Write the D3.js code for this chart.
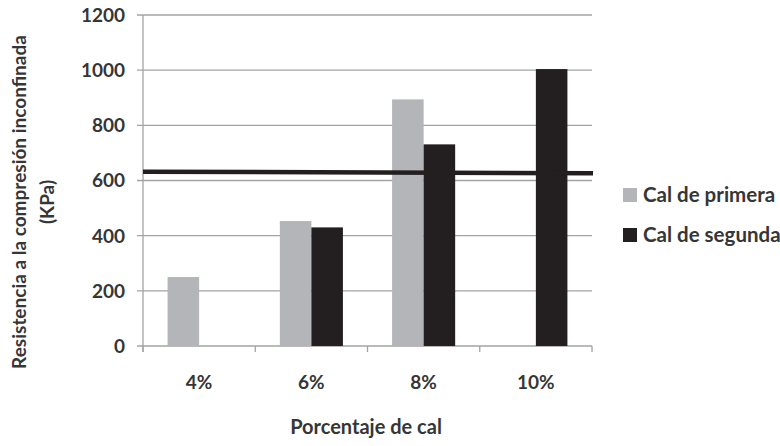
<!DOCTYPE html>
<html>
<head>
<meta charset="utf-8">
<script src="https://cdn.jsdelivr.net/npm/d3@7"></script>
<style>
  html, body { margin: 0; padding: 0; background: #fff; }
  svg { display: block; }
  text { font-family: Lato, "Open Sans", sans-serif; font-weight: bold; fill: #363636; }
</style>
</head>
<body>
<svg id="chart" width="780" height="446"></svg>
<script>
const categories = ["4%", "6%", "8%", "10%"];
const series = ["Cal de primera", "Cal de segunda"];
const calPrimera = [250, 453, 894, null];
const calSegunda = [null, 430, 731, 1004];
const refLine = [632, 626];
const yTicks = [0, 200, 400, 600, 800, 1000, 1200];
const colors = ["#b4b5b9", "#231f20"];

(function () {
const svg = d3.select("#chart");
const pL = 143, pR = 592, pT = 15, pB = 346;

const x0 = d3.scaleBand().domain(categories).range([pL, pR]).padding(0);
const bw = x0.bandwidth();
const x1 = d3.scaleBand().domain(series).range([bw * 0.219, bw * 0.781]).padding(0);
const y = d3.scaleLinear().domain([0, 1200]).range([pB, pT]);

// gridlines
svg.append("g").selectAll("line").data(yTicks).join("line")
  .attr("x1", pL - 6).attr("x2", pR)
  .attr("y1", d => y(d)).attr("y2", d => y(d))
  .attr("stroke", "#a3a3a5").attr("stroke-width", 1.3);

// y tick labels
svg.append("g").selectAll("text").data(yTicks).join("text")
  .attr("x", 125).attr("y", d => y(d)).attr("dy", "0.36em")
  .attr("text-anchor", "end").attr("font-size", 19)
  .text(d => d);

// bars
const data = categories.map((c, i) => ({cat: c, vals: [calPrimera[i], calSegunda[i]]}));
const g = svg.append("g").selectAll("g").data(data).join("g")
  .attr("transform", d => `translate(${x0(d.cat)},0)`);
g.selectAll("rect").data(d => d.vals.map((v, j) => ({s: series[j], v, j})).filter(e => e.v != null))
  .join("rect")
  .attr("x", e => x1(e.s)).attr("width", x1.bandwidth())
  .attr("y", e => y(e.v)).attr("height", e => y(0) - y(e.v))
  .attr("fill", e => colors[e.j]);

// y axis line
svg.append("line").attr("x1", pL).attr("x2", pL).attr("y1", pT).attr("y2", pB + 6)
  .attr("stroke", "#a3a3a5").attr("stroke-width", 1.3);
// x axis ticks
const bounds = categories.map(c => x0(c)).concat([pR]);
svg.append("g").selectAll("line").data(bounds).join("line")
  .attr("x1", d => d).attr("x2", d => d).attr("y1", pB).attr("y2", pB + 6)
  .attr("stroke", "#a3a3a5").attr("stroke-width", 1.3);

// x tick labels
svg.append("g").selectAll("text").data(categories).join("text")
  .attr("x", d => x0(d) + bw / 2).attr("y", 389)
  .attr("text-anchor", "middle").attr("font-size", 19)
  .text(d => d);

// reference line
const xr = d3.scaleLinear().domain([0, refLine.length - 1]).range([pL, pR + 1]);
svg.append("path").datum(refLine)
  .attr("d", d3.line().x((d, i) => xr(i)).y(d => y(d)))
  .attr("fill", "none").attr("stroke", "#231f20").attr("stroke-width", 4.5);

// axis titles
svg.append("text").attr("x", 366).attr("y", 434).attr("text-anchor", "middle")
  .attr("font-size", 20).text("Porcentaje de cal");
svg.append("text").attr("transform", "translate(26,202) rotate(-90)")
  .attr("text-anchor", "middle").attr("font-size", 19)
  .text("Resistencia a la compresión inconfinada");
svg.append("text").attr("transform", "translate(54,202) rotate(-90)")
  .attr("text-anchor", "middle").attr("font-size", 19)
  .text("(KPa)");

// legend
const leg = svg.append("g").selectAll("g").data(series).join("g")
  .attr("transform", (d, i) => `translate(623,${188 + i * 40})`);
leg.append("rect").attr("width", 14).attr("height", 14).attr("fill", (d, i) => colors[i]);
leg.append("text").attr("x", 20).attr("y", 14).attr("font-size", 20.5).text(d => d);
})();
</script>
</body>
</html>
